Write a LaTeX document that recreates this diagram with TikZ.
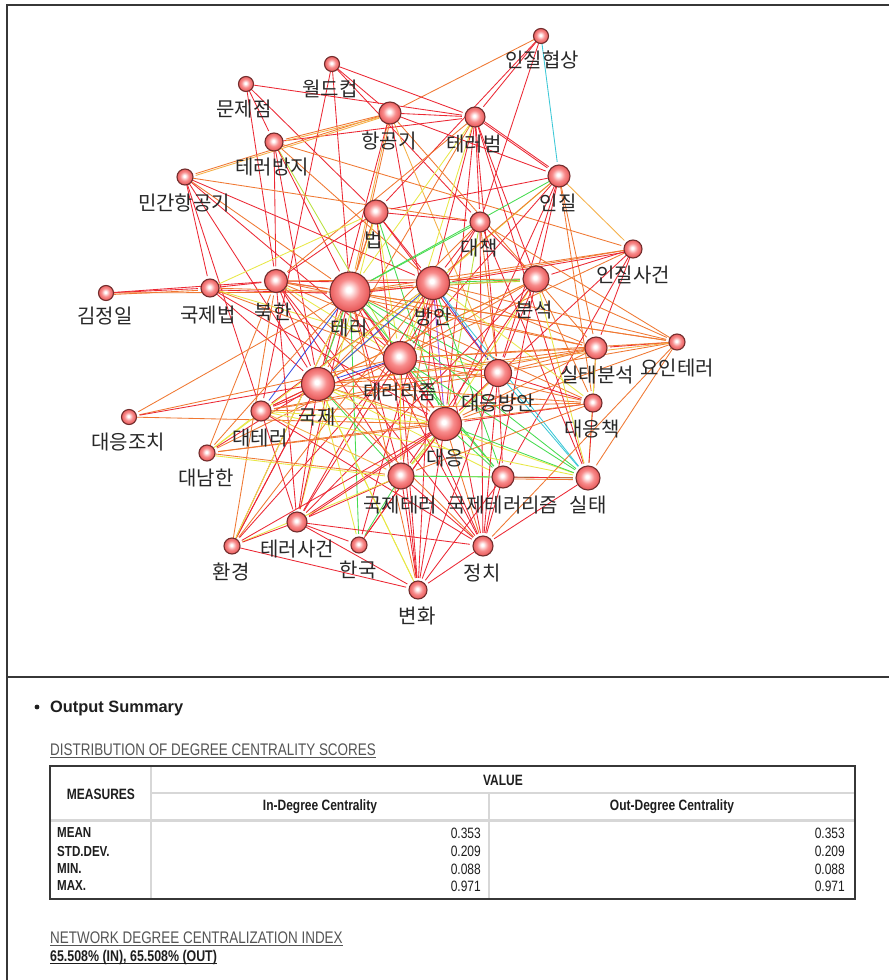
\documentclass[tikz,border=0pt]{standalone}
\usepackage{fontspec}
\setmainfont{Liberation Sans}
\newfontfamily\kofont{Noto Sans CJK KR}
\newfontfamily\narrowfont[FakeStretch=0.8]{Liberation Sans}

% edge colours
\definecolor{cR}{RGB}{236,40,52}
\definecolor{cO}{RGB}{240,120,50}
\definecolor{cL}{RGB}{245,175,70}
\definecolor{cY}{RGB}{232,232,70}
\definecolor{cV}{RGB}{185,225,60}
\definecolor{cG}{RGB}{70,220,80}
\definecolor{cC}{RGB}{60,200,215}
\definecolor{cB}{RGB}{60,80,225}
\definecolor{cP}{RGB}{160,70,225}
% vertex colours
\definecolor{ndEdge}{RGB}{115,45,45}
\definecolor{ndPink}{RGB}{248,140,140}
\definecolor{ndRed}{RGB}{232,90,90}
\definecolor{frameGray}{RGB}{55,55,55}
\definecolor{headGray}{RGB}{85,85,85}
\definecolor{ruleGray}{RGB}{215,215,215}
\definecolor{txtDark}{RGB}{30,30,30}
\definecolor{lblDark}{RGB}{40,40,40}

\pgfdeclareradialshading{vball}{\pgfpoint{-2bp}{3bp}}{%
  color(0bp)=(white); color(3bp)=(white); color(14bp)=(ndPink);
  color(25bp)=(ndRed); color(50bp)=(ndRed)}

\begin{document}
\begin{tikzpicture}[x=1pt,y=-1pt,
  vtx/.style={circle, draw=ndEdge, line width=1.1pt, shading=vball, inner sep=0pt},
  lbl/.style={font=\kofont\fontsize{20}{21}\selectfont, text=lblDark, inner sep=0pt},
  edge/.style={line width=0.85pt, shorten >=3pt},
  tabhead/.style={font=\narrowfont\bfseries\fontsize{15}{16}\selectfont, text=txtDark, inner sep=0pt},
  tabnum/.style={font=\narrowfont\fontsize{15}{16}\selectfont, text=txtDark, inner sep=0pt, anchor=east},
  rowname/.style={font=\narrowfont\bfseries\fontsize{14.5}{16}\selectfont, text=txtDark, inner sep=0pt, anchor=west},
  heading/.style={font=\narrowfont\fontsize{16.8}{18}\selectfont, text=headGray, inner sep=0pt, anchor=base west}
]
\useasboundingbox (0,0) rectangle (889,980);
\fill[white] (0,0) rectangle (889,980);

% ---------------- vertices (positions and sizes) ----------------
\foreach \n/\x/\y/\d in {
 ijh/541/36/15, wdc/332/64/15, mjj/246/84/15, hgg/390/113/22, trb/475/117/20,
 tbj/274/142/18, ij/559/176/22, mgh/185/177/16, law/376/212/24, dc/480/222/20,
 ijs/633/249/18, kji/106/293/15, gjb/210/288/18, nk/276/281/23, ter/350/292/40,
 ban/433/283/33, bun/536/279/26, yit/677/342/16, stb/596/348/22, trz/400/358/33,
 gj/318/384/33, dub/498/373/27, duj/129/417/15, dtr/261/411/20, duc/593/403/18,
 du/445/424/33, dnh/207/453/16, gjt/401/476/26, gjtz/503/477/22, st/588/478/24,
 trs/297/522/20, hk/232/546/16, kor/359/545/16, jc/483/546/20, bh/418/590/18}{
  \node[circle, inner sep=0pt, minimum size=\d pt] (\n) at (\x,\y) {};
}

% ---------------- connectors ----------------
\begin{pgfinterruptboundingbox}
\foreach \a/\b/\c in {
 ijh/hgg/cO, ijh/trb/cR, ijh/law/cR, ijh/dc/cR, ijh/ij/cC,
 wdc/hgg/cR, wdc/trb/cR, wdc/dtr/cR, wdc/ter/cR, wdc/dc/cR,
 mjj/trb/cR, mjj/nk/cR, mjj/tbj/cR, mjj/law/cR,
 hgg/tbj/cO, hgg/mgh/cO, hgg/ter/cL, hgg/trb/cR, hgg/ij/cR, hgg/dub/cL,
 hgg/bun/cO, hgg/du/cR, hgg/gj/cR,
 tbj/trb/cR, tbj/nk/cR, tbj/gj/cR, tbj/trz/cV, tbj/ter/cR, tbj/ban/cO, tbj/ijs/cO,
 mgh/dc/cO, mgh/ban/cR, mgh/trz/cR, mgh/gjb/cR, mgh/gj/cR, mgh/dtr/cR, mgh/ter/cO,
 trb/ij/cR, trb/dc/cR, trb/bun/cR, trb/ban/cR, trb/dub/cR, trb/du/cR, trb/trz/cY,
 trb/st/cR, trb/gj/cO, trb/nk/cO, trb/ter/cY,
 ij/law/cR, ij/ter/cG, ij/ijs/cL, ij/duc/cO, ij/bun/cR, ij/dub/cR, ij/trz/cR,
 ij/du/cR, ij/stb/cO, ij/gj/cY, ij/ban/cO,
 law/ban/cR, law/dc/cR, law/ter/cO, law/trz/cY, law/gj/cO, law/nk/cR, law/dub/cR,
 law/bh/cR, law/trs/cY, law/du/cG,
 dc/ban/cR, dc/bun/cR, dc/trz/cR, dc/du/cV, dc/gj/cO, dc/st/cR, dc/ter/cG,
 dc/jc/cR, dc/dub/cO,
 ijs/ban/cO, ijs/bun/cR, ijs/stb/cR, ijs/trz/cO, ijs/du/cR, ijs/gjtz/cR, ijs/ter/cO,
 kji/gjb/cR, kji/ter/cO, kji/nk/cR,
 gjb/ter/cO, gjb/nk/cR, gjb/gj/cR, gjb/trz/cO, gjb/du/cR, gjb/dub/cY, gjb/law/cY,
 nk/ter/cR, nk/ban/cR, nk/trz/cY, nk/du/cO, nk/dub/cO, nk/gj/cR, nk/bun/cO,
 nk/stb/cO, nk/gjt/cR, nk/jc/cR, nk/trs/cR, nk/yit/cO,
 ter/ban/cO, ter/bun/cO, ter/trz/cR, ter/gj/cG, ter/du/cR, ter/dub/cG, ter/stb/cO,
 ter/duc/cO, ter/yit/cO, ter/st/cG, ter/gjt/cR, ter/gjtz/cG, ter/jc/cR, ter/trs/cR,
 ter/hk/cR, ter/kor/cG, ter/bh/cO, ter/dtr/cB, ter/dnh/cO, ter/duj/cO,
 ban/bun/cG, ban/trz/cY, ban/gj/cB, ban/du/cP, ban/dub/cB, ban/stb/cO, ban/duc/cY,
 ban/yit/cO, ban/st/cC, ban/gjtz/cG, ban/jc/cR, ban/bh/cR, ban/gjt/cO, ban/trs/cR,
 ban/kor/cR, ban/dtr/cR, ban/dnh/cY, ban/hk/cO,
 bun/trz/cO, bun/du/cY, bun/dub/cR, bun/stb/cO, bun/yit/cO, bun/duc/cO, bun/st/cY,
 bun/gj/cL, bun/gjt/cR, bun/jc/cR, bun/trs/cR, bun/dtr/cO,
 yit/stb/cR, yit/st/cO, yit/dub/cO, yit/trz/cO, yit/du/cO, yit/gj/cL, yit/dc/cO,
 stb/trz/cO, stb/dub/cO, stb/du/cO, stb/gj/cO, stb/duc/cR, stb/st/cY, stb/dtr/cO,
 trz/gj/cB, trz/du/cR, trz/dub/cR, trz/gjt/cY, trz/gjtz/cG, trz/st/cG, trz/duc/cO,
 trz/dtr/cR, trz/dnh/cO, trz/trs/cR, trz/jc/cR, trz/bh/cR, trz/hk/cR, trz/duj/cO,
 gj/du/cO, gj/dub/cO, gj/dtr/cR, gj/duj/cR, gj/dnh/cR, gj/gjt/cG, gj/gjtz/cY,
 gj/st/cY, gj/trs/cR, gj/hk/cR, gj/kor/cY, gj/bh/cY, gj/jc/cO, gj/duc/cO,
 dub/du/cR, dub/duc/cR, dub/st/cC, dub/gjtz/cR, dub/jc/cR, dub/dtr/cO, dub/gjt/cY,
 dub/bh/cR,
 duj/du/cO,
 dtr/du/cY, dtr/gjt/cL, dtr/st/cY, dtr/duc/cO, dtr/jc/cR, dtr/trs/cR,
 duc/du/cR, duc/st/cR, duc/gjt/cO, duc/dnh/cO,
 du/gjt/cV, du/gjtz/cG, du/st/cG, du/trs/cR, du/hk/cR, du/kor/cR, du/jc/cO,
 du/bh/cR, du/dnh/cO,
 dnh/dtr/cY, dnh/gjt/cO, dnh/nk/cO,
 gjt/gjtz/cV, gjt/trs/cR, gjt/hk/cY, gjt/kor/cG, gjt/jc/cR, gjt/bh/cR, gjt/st/cG,
 gjtz/st/cR, gjtz/jc/cR, gjtz/bh/cR,
 st/jc/cR, yit/jc/cO,
 trs/jc/cR, trs/bh/cR, trs/hk/cR, trs/kor/cR,
 hk/bh/cR, hk/nk/cO, hk/gj/cR, hk/ter/cY,
 kor/du/cR, jc/bh/cR, bh/gj/cY}{
  \draw[edge, \c] (\a) -- (\b);
}
% paired links drawn side by side
\foreach \a/\b/\c/\dx/\dy in {
 hgg/tbj/cL/0/1.8, hgg/mgh/cL/0/1.8, hgg/ter/cO/1.8/0, trb/ij/cR/1.2/-1.2,
 gjb/ter/cR/0/1.8, ter/ban/cR/0/1.8, ijs/ban/cR/0/1.8, gjtz/st/cO/0/1.8,
 ban/bun/cV/0/1.8, du/trs/cR/1.2/1.2, kji/gjb/cO/0/1.8, dnh/gjt/cY/0/1.8}{
  \draw[edge, \c, transform canvas={shift={(\dx pt,-\dy pt)}}] (\a) -- (\b);
}
\end{pgfinterruptboundingbox}

% vertex balls above the connectors
\foreach \n/\d in {
 ijh/15, wdc/15, mjj/15, hgg/22, trb/20, tbj/18, ij/22, mgh/16, law/24, dc/20,
 ijs/18, kji/15, gjb/18, nk/23, ter/40, ban/33, bun/26, yit/16, stb/22, trz/33,
 gj/33, dub/27, duj/15, dtr/20, duc/18, du/33, dnh/16, gjt/26, gjtz/22, st/24,
 trs/20, hk/16, kor/16, jc/20, bh/18}{
  \node[vtx, minimum size=\d pt] (\n-v) at (\n.center) {};
}

% ---------------- vertex labels ----------------
\node[lbl] (ijh-l)  at (542,60)  {인질협상};
\node[lbl] (wdc-l)  at (330,89)  {월드컵};
\node[lbl] (mjj-l)  at (244,109) {문제점};
\node[lbl] (hgg-l)  at (389,141) {항공기};
\node[lbl] (trb-l)  at (474,144) {테러범};
\node[lbl] (tbj-l)  at (272,167) {테러방지};
\node[lbl] (ij-l)   at (558,203) {인질};
\node[lbl] (mgh-l)  at (184,203) {민간항공기};
\node[lbl] (law-l)  at (374,240) {법};
\node[lbl] (dc-l)   at (479,248) {대책};
\node[lbl] (ijs-l)  at (633,275) {인질사건};
\node[lbl] (kji-l)  at (105,316) {김정일};
\node[lbl] (gjb-l)  at (208,315) {국제법};
\node[lbl] (nk-l)   at (273,312) {북한};
\node[lbl] (ter-l)  at (349,328) {테러};
\node[lbl] (ban-l)  at (433,317) {방안};
\node[lbl] (bun-l)  at (534,310) {분석};
\node[lbl] (yit-l)  at (677,368) {요인테러};
\node[lbl] (stb-l)  at (597,375) {실태분석};
\node[lbl] (trz-l)  at (400,392) {테러리즘};
\node[lbl] (gj-l)   at (317,417) {국제};
\node[lbl] (dub-l)  at (498,403) {대응방안};
\node[lbl] (duj-l)  at (128,442) {대응조치};
\node[lbl] (dtr-l)  at (260,438) {대테러};
\node[lbl] (duc-l)  at (592,429) {대응책};
\node[lbl] (du-l)   at (445,458) {대응};
\node[lbl] (dnh-l)  at (206,478) {대남한};
\node[lbl] (gjt-l)  at (400,505) {국제테러};
\node[lbl] (gjtz-l) at (503,505) {국제테러리즘};
\node[lbl] (st-l)   at (588,505) {실태};
\node[lbl] (trs-l)  at (297,549) {테러사건};
\node[lbl] (hk-l)   at (231,572) {환경};
\node[lbl] (kor-l)  at (358,570) {한국};
\node[lbl] (jc-l)   at (482,573) {정치};
\node[lbl] (bh-l)   at (417,616) {변화};

% ---------------- frame ----------------
\coordinate (fTL) at (7,5);
\coordinate (fTR) at (889,5);
\coordinate (fBL) at (7,980);
\coordinate (sL) at (7,677);
\coordinate (sR) at (889,677);
\draw[frameGray, line width=1.3pt] (fTR) -- (fTL) -- (fBL);
\draw[frameGray, line width=1.3pt] (sL) -- (sR);

% ---------------- summary ----------------
\fill[txtDark] (37,707) circle (2.4pt);
\node[font=\bfseries\fontsize{16.4}{19}\selectfont, text=txtDark, inner sep=0pt, anchor=base west] (outsum) at (50,712) {Output Summary};

\node[heading] (h1) at (50,755) {DISTRIBUTION OF DEGREE CENTRALITY SCORES};
\draw[headGray, line width=0.8pt] ([yshift=-2.5pt]h1.base west) -- ([yshift=-2.5pt]h1.base east);

% table
\coordinate (tTL) at (50,766);
\coordinate (tBR) at (855,899);
\coordinate (c1T) at (151,766);
\coordinate (c1B) at (151,899);
\coordinate (c2T) at (489,793);
\coordinate (c2B) at (489,899);
\coordinate (r1L) at (151,793);
\coordinate (r1R) at (855,793);
\coordinate (r2L) at (50,820);
\coordinate (r2R) at (855,820);
\draw[ruleGray, line width=2pt] (c1T) -- (c1B);
\draw[ruleGray, line width=2pt] (c2T) -- (c2B);
\draw[ruleGray, line width=2pt] (r1L) -- (r1R);
\draw[ruleGray, line width=3pt] (r2L) -- (r2R);
\draw[frameGray, line width=1.6pt] (tTL) rectangle (tBR);

\node[tabhead] (tv)   at (503,780) {VALUE};
\node[tabhead] (tm)   at (101,794) {MEASURES};
\node[tabhead] (tin)  at (320,807) {In-Degree Centrality};
\node[tabhead] (tout) at (672,807) {Out-Degree Centrality};

\node[rowname] (rn1) at (57,833) {MEAN};
\node[rowname] (rn2) at (57,851) {STD.DEV.};
\node[rowname] (rn3) at (57,869) {MIN.};
\node[rowname] (rn4) at (57,886) {MAX.};

\node[tabnum] (a1) at (481,833) {0.353};
\node[tabnum] (a2) at (481,851) {0.209};
\node[tabnum] (a3) at (481,869) {0.088};
\node[tabnum] (a4) at (481,886) {0.971};
\node[tabnum] (b1) at (845,833) {0.353};
\node[tabnum] (b2) at (845,851) {0.209};
\node[tabnum] (b3) at (845,869) {0.088};
\node[tabnum] (b4) at (845,886) {0.971};

\node[heading] (h2) at (50,943) {NETWORK DEGREE CENTRALIZATION INDEX};
\draw[headGray, line width=0.8pt] ([yshift=-2.5pt]h2.base west) -- ([yshift=-2.5pt]h2.base east);
\node[heading, font=\narrowfont\bfseries\fontsize{15.5}{17}\selectfont, text=txtDark] (h3) at (50,961) {65.508\% (IN), 65.508\% (OUT)};
\draw[txtDark, line width=0.8pt] ([yshift=-2pt]h3.base west) -- ([yshift=-2pt]h3.base east);
\end{tikzpicture}
\end{document}
